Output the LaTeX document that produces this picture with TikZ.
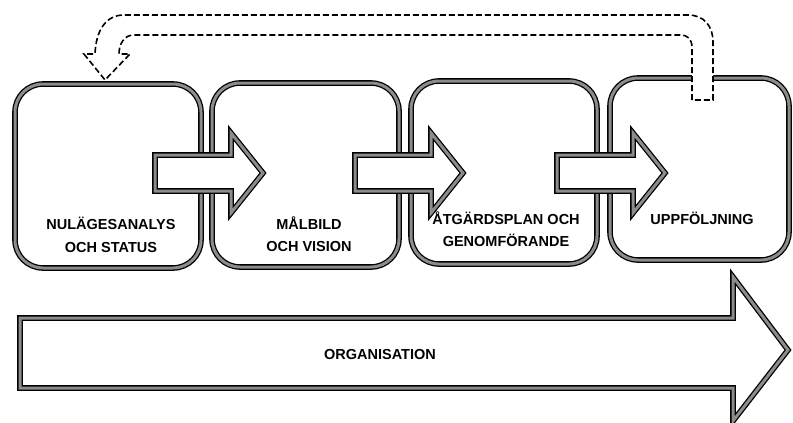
\documentclass[tikz,border=0pt]{standalone}
\usepackage{fontspec}
\setmainfont{Liberation Sans}
\usetikzlibrary{positioning}

\begin{document}
\begin{tikzpicture}[
  x=1pt, y=-1pt,
  font=\fontsize{14.5}{22.5}\selectfont\bfseries,
  edge/.style={draw=black, double=black!45, double distance=3pt, line width=1.3pt},
  stage/.style={edge, rounded corners=28pt, minimum width=186pt, minimum height=184pt, inner sep=0pt},
  stagetext/.style={align=center, inner sep=0pt},
  block/.style={edge, fill=white, line join=miter},
  feedback/.style={draw=black, line width=1.6pt, dash pattern=on 6pt off 3pt, fill=white},
]
  \useasboundingbox (0,0) rectangle (793,423);

  % the four stages
  \node[stage] (b1) at (108,176) {};
  \node[stage, minimum width=187pt] (b2) at (305.5,175) {};
  \node[stage, minimum height=183pt] (b3) at (504,172.5) {};
  \node[stage, minimum width=179pt, minimum height=182pt] (b4) at (699.5,169) {};

  % block arrows between the stages
  \foreach \s in {155,355,557}
    \draw[block] (\s,155) -- (\s+76,155) -- (\s+76,133) -- (\s+108,173)
      -- (\s+76,213) -- (\s+76,191) -- (\s,191) -- cycle;

  % organisation arrow
  \draw[block] (20,318) -- (733,318) -- (733,277) -- (788,350)
    -- (733,421) -- (733,388) -- (20,388) -- cycle;

  % feedback loop
  \draw[feedback] (692,100) -- (692,48) .. controls (692,39) and (688,35) .. (680,35)
    -- (134,35) .. controls (124,35) and (119,44) .. (119,54) -- (130,54)
    -- (105,80) -- (84,54) -- (95,54) .. controls (96,30) and (106,15) .. (124,15)
    -- (688,15) .. controls (704,15) and (713,26) .. (713,42) -- (713,100) -- cycle;

  \node[stagetext] (t1) at (111,235) {NULÄGESANALYS\\OCH STATUS};
  \node[stagetext] (t2) at (309,234) {MÅLBILD\\OCH VISION};
  \node[stagetext] (t3) at (506,229) {ÅTGÄRDSPLAN OCH\\GENOMFÖRANDE};
  \node[stagetext] (t4) at (702,218) {UPPFÖLJNING};
  \node[stagetext] (org) at (380,355) {ORGANISATION};
\end{tikzpicture}
\end{document}
